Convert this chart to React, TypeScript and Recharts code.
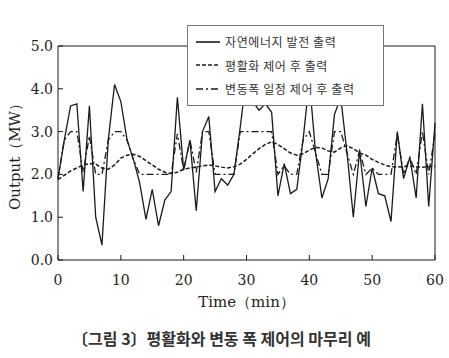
import { LineChart, Line, XAxis, YAxis, ReferenceLine, Legend, Label } from 'recharts'

const TIME = [0,1,2,3,4,5,6,7,8,9,10,11,12,13,14,15,16,17,18,19,20,21,22,23,24,25,26,27,28,29,30,31,32,33,34,35,36,37,38,39,40,41,42,43,44,45,46,47,48,49,50,51,52,53,54,55,56,57,58,59,60]
const RAW = [1.9,2.8,3.6,3.65,1.6,3.6,1.0,0.35,2.8,4.1,3.7,2.8,2.35,1.8,0.95,1.65,0.8,1.4,1.6,3.8,2.1,2.8,1.15,3.0,3.35,1.6,1.9,1.75,2.0,3.1,4.3,3.7,3.5,3.65,3.45,1.5,2.25,1.55,1.65,2.8,4.2,2.5,1.45,1.9,3.4,3.8,2.5,1.0,2.55,1.25,2.15,1.55,1.5,0.9,3.0,1.9,2.4,1.45,3.65,1.25,3.2]
const SMOOTH = [1.88,1.98,2.08,2.15,2.22,2.25,2.24,2.15,2.12,2.22,2.38,2.45,2.47,2.42,2.32,2.22,2.12,2.05,2.02,2.05,2.12,2.15,2.17,2.2,2.22,2.2,2.17,2.15,2.18,2.24,2.35,2.48,2.6,2.7,2.76,2.7,2.6,2.5,2.45,2.48,2.57,2.63,2.62,2.55,2.52,2.62,2.67,2.6,2.5,2.45,2.35,2.28,2.22,2.18,2.17,2.18,2.2,2.18,2.17,2.18,2.2]
const BAND = [1.9,2.8,3.0,3.0,2.05,2.9,2.0,2.0,2.8,3.0,3.0,2.8,2.35,2.0,2.0,2.0,2.0,2.0,2.0,2.95,2.1,2.8,2.05,3.0,3.0,2.0,2.0,2.0,2.0,3.0,3.0,3.0,3.0,3.0,3.0,2.0,2.2,2.0,2.0,2.8,3.0,2.5,2.0,2.0,3.0,3.0,2.5,2.0,2.55,2.0,2.15,2.0,2.0,2.0,2.95,2.0,2.4,2.0,3.0,2.0,2.95]
const X_TICKS = [0,10,20,30,40,50,60]
const Y_TICKS = [0,1,2,3,4,5]
const SERIES_NAMES = ['자연에너지 발전 출력', '평활화 제어 후 출력', '변동폭 일정 제어 후 출력']
const DASHES = ['', '4 2', '7 3 2 3']

const data = TIME.map((t, i) => ({ t, raw: RAW[i], smooth: SMOOTH[i], band: BAND[i] }))

const INK = '#1a1a1a'
const serif = '"DejaVu Serif", serif'
const kr = '"Noto Sans CJK KR", sans-serif'

function LegendBox() {
  return (
    <div style={{ background: '#fff', border: '1px solid #777', width: 197, padding: '4px 0 4px 8px', boxSizing: 'border-box', fontFamily: kr, fontSize: 12, color: '#333' }}>
      {SERIES_NAMES.map((n, i) => (
        <div key={n} style={{ display: 'flex', alignItems: 'center', height: 23.5 }}>
          <svg width={24} height={6} style={{ marginRight: 5 }}>
            <line x1={0} x2={24} y1={3} y2={3} stroke={INK} strokeWidth={1.6} strokeDasharray={DASHES[i] || undefined} />
          </svg>
          <span style={{ letterSpacing: 0.6 }}>{n}</span>
        </div>
      ))}
    </div>
  )
}

export default function App() {
  return (
    <div style={{ position: 'absolute', left: 0, top: 0, width: 449, height: 358, background: '#fff' }}>
      <LineChart width={449} height={358} data={data} margin={{ top: 46, right: 14, left: 0, bottom: 0 }}>
        <XAxis dataKey="t" type="number" domain={[0, 60]} ticks={X_TICKS} height={98}
          stroke={INK} tickSize={-5} tickMargin={20}
          tick={{ fill: '#222', fontSize: 14, fontFamily: serif }}>
          <Label value="Time（min）" position="insideTop" offset={36} style={{ fill: '#222', fontSize: 15, fontFamily: serif }} />
        </XAxis>
        <YAxis type="number" domain={[0, 5]} ticks={Y_TICKS} width={58} interval={0}
          stroke={INK} tickSize={-5} tickMargin={10} tickFormatter={(v: number) => v.toFixed(1)}
          tick={{ fill: '#222', fontSize: 14, fontFamily: serif }}>
          <Label value="Output（MW）" angle={-90} position="insideLeft" offset={15} style={{ fill: '#222', fontSize: 15, fontFamily: serif, textAnchor: 'middle' }} />
        </YAxis>
        <ReferenceLine y={5} stroke={INK} strokeWidth={1} />
        <ReferenceLine x={60} stroke={INK} strokeWidth={1} />
        <Line dataKey="raw" name={SERIES_NAMES[0]} stroke={INK} strokeWidth={1.3} dot={false} isAnimationActive={false} />
        <Line dataKey="smooth" name={SERIES_NAMES[1]} stroke={INK} strokeWidth={1.5} strokeDasharray={DASHES[1]} dot={false} isAnimationActive={false} />
        <Line dataKey="band" name={SERIES_NAMES[2]} stroke={INK} strokeWidth={1.3} strokeDasharray={DASHES[2]} dot={false} isAnimationActive={false} />
        <Legend layout="vertical" align="center" verticalAlign="middle" content={() => <LegendBox />}
          wrapperStyle={{ left: 187, top: 25, width: 198 }} />
      </LineChart>
      <div style={{ position: 'absolute', left: 0, width: 443, top: 326, textAlign: 'center', fontFamily: kr, fontWeight: 700, fontSize: 16, color: '#333' }}>
        〔그림 3〕평활화와 변동 폭 제어의 마무리 예
      </div>
    </div>
  )
}
